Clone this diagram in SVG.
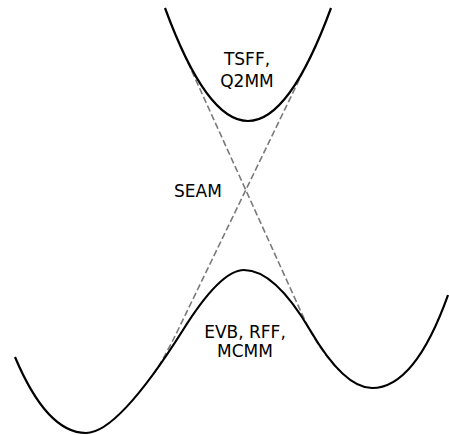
<svg xmlns="http://www.w3.org/2000/svg" width="449" height="435" viewBox="0 0 449 435">
<style>
.solid{fill:none;stroke:#000;stroke-width:2.2;stroke-linecap:butt}
.dash{fill:none;stroke:#7a7a7a;stroke-width:1.6;stroke-dasharray:6.5,3}
.lbl{font-family:"DejaVu Sans",Verdana,sans-serif;font-size:17px;fill:#000;text-anchor:middle}
</style>
<rect width="449" height="435" fill="#fff"/>
<g id="connectors">
<path class="dash" d="M180,45 L303,316.2 Q317.5,348 339.4,370.5"/>
<path class="dash" d="M316,45 L180,325.9 Q162.7,361.5 152.5,375.5"/>
</g>
<g id="upper-surface">
<path class="solid" d="M165,8 Q248,234 331,8"/>
</g>
<g id="lower-surface">
<path class="solid" d="M15,357 Q47,433 86,433 Q118,433 183,330 Q220.5,270 244,270 Q274.7,270 310,330 Q344,388 372,388 Q414.8,388 448,295"/>
</g>
<g id="label-tsff">
<text class="lbl" x="247" y="65">TSFF,</text>
<text class="lbl" x="247" y="87">Q2MM</text>
</g>
<g id="label-seam">
<text class="lbl" x="198" y="197">SEAM</text>
</g>
<g id="label-evb">
<text class="lbl" x="245" y="338">EVB, RFF,</text>
<text class="lbl" x="245" y="357">MCMM</text>
</g>
</svg>
